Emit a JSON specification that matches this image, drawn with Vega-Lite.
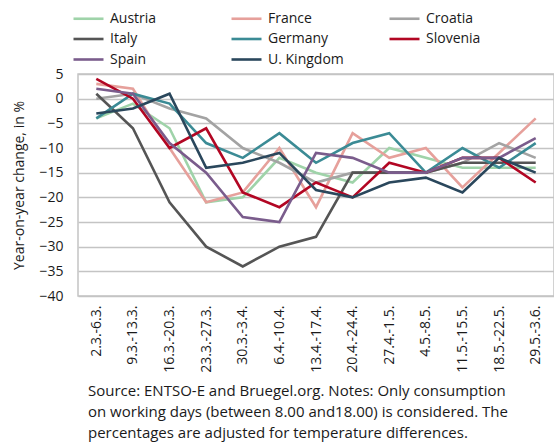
{
  "$schema": "https://vega.github.io/schema/vega-lite/v6.json",
  "width": 476,
  "height": 222,
  "autosize": {"type": "none"},
  "padding": {"left": 78, "top": 74, "right": 0, "bottom": 148},
  "background": "white",
  "config": {
    "font": "Open Sans",
    "view": {"stroke": "#c4c4c4", "strokeWidth": 1.5}
  },
  "title": {
    "text": [
      "Source: ENTSO-E and Bruegel.org. Notes: Only consumption",
      "on working days (between 8.00 and18.00) is considered. The",
      "percentages are adjusted for temperature differences."
    ],
    "orient": "bottom",
    "anchor": "start",
    "frame": "group",
    "dx": 10,
    "offset": 12,
    "fontSize": 15,
    "fontWeight": "normal",
    "lineHeight": 21,
    "color": "#1a1a1a"
  },
  "datasets": {
    "d": [
      {"week": "2.3.-6.3.", "country": "Austria", "value": -4},
      {"week": "9.3.-13.3.", "country": "Austria", "value": -1},
      {"week": "16.3.-20.3.", "country": "Austria", "value": -6},
      {"week": "23.3.-27.3.", "country": "Austria", "value": -21},
      {"week": "30.3.-3.4.", "country": "Austria", "value": -20},
      {"week": "6.4.-10.4.", "country": "Austria", "value": -12},
      {"week": "13.4.-17.4.", "country": "Austria", "value": -15},
      {"week": "20.4.-24.4.", "country": "Austria", "value": -17},
      {"week": "27.4.-1.5.", "country": "Austria", "value": -10},
      {"week": "4.5.-8.5.", "country": "Austria", "value": -12},
      {"week": "11.5.-15.5.", "country": "Austria", "value": -14},
      {"week": "18.5.-22.5.", "country": "Austria", "value": -14},
      {"week": "29.5.-3.6.", "country": "Austria", "value": -14},

      {"week": "2.3.-6.3.", "country": "France", "value": 3},
      {"week": "9.3.-13.3.", "country": "France", "value": 2},
      {"week": "16.3.-20.3.", "country": "France", "value": -10},
      {"week": "23.3.-27.3.", "country": "France", "value": -21},
      {"week": "30.3.-3.4.", "country": "France", "value": -19},
      {"week": "6.4.-10.4.", "country": "France", "value": -10},
      {"week": "13.4.-17.4.", "country": "France", "value": -22},
      {"week": "20.4.-24.4.", "country": "France", "value": -7},
      {"week": "27.4.-1.5.", "country": "France", "value": -12},
      {"week": "4.5.-8.5.", "country": "France", "value": -10},
      {"week": "11.5.-15.5.", "country": "France", "value": -18},
      {"week": "18.5.-22.5.", "country": "France", "value": -11},
      {"week": "29.5.-3.6.", "country": "France", "value": -4},

      {"week": "2.3.-6.3.", "country": "Croatia", "value": 0},
      {"week": "9.3.-13.3.", "country": "Croatia", "value": 1},
      {"week": "16.3.-20.3.", "country": "Croatia", "value": -2},
      {"week": "23.3.-27.3.", "country": "Croatia", "value": -4},
      {"week": "30.3.-3.4.", "country": "Croatia", "value": -10},
      {"week": "6.4.-10.4.", "country": "Croatia", "value": -13},
      {"week": "13.4.-17.4.", "country": "Croatia", "value": -17},
      {"week": "20.4.-24.4.", "country": "Croatia", "value": -15},
      {"week": "27.4.-1.5.", "country": "Croatia", "value": -15},
      {"week": "4.5.-8.5.", "country": "Croatia", "value": -15},
      {"week": "11.5.-15.5.", "country": "Croatia", "value": -13},
      {"week": "18.5.-22.5.", "country": "Croatia", "value": -9},
      {"week": "29.5.-3.6.", "country": "Croatia", "value": -12},

      {"week": "2.3.-6.3.", "country": "Italy", "value": 1},
      {"week": "9.3.-13.3.", "country": "Italy", "value": -6},
      {"week": "16.3.-20.3.", "country": "Italy", "value": -21},
      {"week": "23.3.-27.3.", "country": "Italy", "value": -30},
      {"week": "30.3.-3.4.", "country": "Italy", "value": -34},
      {"week": "6.4.-10.4.", "country": "Italy", "value": -30},
      {"week": "13.4.-17.4.", "country": "Italy", "value": -28},
      {"week": "20.4.-24.4.", "country": "Italy", "value": -15},
      {"week": "27.4.-1.5.", "country": "Italy", "value": -15},
      {"week": "4.5.-8.5.", "country": "Italy", "value": -15},
      {"week": "11.5.-15.5.", "country": "Italy", "value": -13},
      {"week": "18.5.-22.5.", "country": "Italy", "value": -13},
      {"week": "29.5.-3.6.", "country": "Italy", "value": -13},

      {"week": "2.3.-6.3.", "country": "Germany", "value": -4},
      {"week": "9.3.-13.3.", "country": "Germany", "value": 1},
      {"week": "16.3.-20.3.", "country": "Germany", "value": -1},
      {"week": "23.3.-27.3.", "country": "Germany", "value": -9},
      {"week": "30.3.-3.4.", "country": "Germany", "value": -12},
      {"week": "6.4.-10.4.", "country": "Germany", "value": -7},
      {"week": "13.4.-17.4.", "country": "Germany", "value": -13},
      {"week": "20.4.-24.4.", "country": "Germany", "value": -9},
      {"week": "27.4.-1.5.", "country": "Germany", "value": -7},
      {"week": "4.5.-8.5.", "country": "Germany", "value": -15},
      {"week": "11.5.-15.5.", "country": "Germany", "value": -10},
      {"week": "18.5.-22.5.", "country": "Germany", "value": -14},
      {"week": "29.5.-3.6.", "country": "Germany", "value": -9},

      {"week": "2.3.-6.3.", "country": "Slovenia", "value": 4},
      {"week": "9.3.-13.3.", "country": "Slovenia", "value": 0},
      {"week": "16.3.-20.3.", "country": "Slovenia", "value": -10},
      {"week": "23.3.-27.3.", "country": "Slovenia", "value": -6},
      {"week": "30.3.-3.4.", "country": "Slovenia", "value": -19},
      {"week": "6.4.-10.4.", "country": "Slovenia", "value": -22},
      {"week": "13.4.-17.4.", "country": "Slovenia", "value": -17},
      {"week": "20.4.-24.4.", "country": "Slovenia", "value": -20},
      {"week": "27.4.-1.5.", "country": "Slovenia", "value": -13},
      {"week": "4.5.-8.5.", "country": "Slovenia", "value": -15},
      {"week": "11.5.-15.5.", "country": "Slovenia", "value": -12},
      {"week": "18.5.-22.5.", "country": "Slovenia", "value": -12},
      {"week": "29.5.-3.6.", "country": "Slovenia", "value": -17},

      {"week": "2.3.-6.3.", "country": "Spain", "value": 2},
      {"week": "9.3.-13.3.", "country": "Spain", "value": 1},
      {"week": "16.3.-20.3.", "country": "Spain", "value": -9},
      {"week": "23.3.-27.3.", "country": "Spain", "value": -15},
      {"week": "30.3.-3.4.", "country": "Spain", "value": -24},
      {"week": "6.4.-10.4.", "country": "Spain", "value": -25},
      {"week": "13.4.-17.4.", "country": "Spain", "value": -11},
      {"week": "20.4.-24.4.", "country": "Spain", "value": -12},
      {"week": "27.4.-1.5.", "country": "Spain", "value": -15},
      {"week": "4.5.-8.5.", "country": "Spain", "value": -15},
      {"week": "11.5.-15.5.", "country": "Spain", "value": -12},
      {"week": "18.5.-22.5.", "country": "Spain", "value": -12},
      {"week": "29.5.-3.6.", "country": "Spain", "value": -8},

      {"week": "2.3.-6.3.", "country": "U. Kingdom", "value": -3},
      {"week": "9.3.-13.3.", "country": "U. Kingdom", "value": -2},
      {"week": "16.3.-20.3.", "country": "U. Kingdom", "value": 1},
      {"week": "23.3.-27.3.", "country": "U. Kingdom", "value": -14},
      {"week": "30.3.-3.4.", "country": "U. Kingdom", "value": -13},
      {"week": "6.4.-10.4.", "country": "U. Kingdom", "value": -11},
      {"week": "13.4.-17.4.", "country": "U. Kingdom", "value": -18.5},
      {"week": "20.4.-24.4.", "country": "U. Kingdom", "value": -20},
      {"week": "27.4.-1.5.", "country": "U. Kingdom", "value": -17},
      {"week": "4.5.-8.5.", "country": "U. Kingdom", "value": -16},
      {"week": "11.5.-15.5.", "country": "U. Kingdom", "value": -19},
      {"week": "18.5.-22.5.", "country": "U. Kingdom", "value": -12},
      {"week": "29.5.-3.6.", "country": "U. Kingdom", "value": -15}
    ]
  },
  "data": {"name": "d"},
  "mark": {"type": "line", "strokeWidth": 2.6, "strokeJoin": "miter", "clip": false},
  "encoding": {
    "x": {
      "field": "week",
      "type": "ordinal",
      "sort": null,
      "scale": {"type": "point", "padding": 0.5},
      "axis": {
        "title": null,
        "labelAngle": 270,
        "labelFontSize": 14,
        "labelColor": "#1a1a1a",
        "labelPadding": 9,
        "ticks": false,
        "domain": false,
        "grid": false
      }
    },
    "y": {
      "field": "value",
      "type": "quantitative",
      "scale": {"domain": [-40, 5], "nice": false, "zero": false},
      "axis": {
        "values": [-40, -35, -30, -25, -20, -15, -10, -5, 0, 5],
        "title": "Year-on-year change, in %",
        "titleFontSize": 14,
        "titleFontWeight": "normal",
        "titleColor": "#1a1a1a",
        "titlePadding": 12,
        "labelFontSize": 14,
        "labelColor": "#1a1a1a",
        "labelPadding": 15,
        "ticks": false,
        "domain": false,
        "grid": true,
        "gridColor": "#c4c4c4",
        "gridWidth": 1.5
      }
    },
    "color": {
      "field": "country",
      "type": "nominal",
      "sort": null,
      "scale": {
        "domain": ["Austria", "Italy", "Spain", "France", "Germany", "U. Kingdom", "Croatia", "Slovenia"],
        "range": ["#9fd3a9", "#555555", "#7a5c8c", "#e6a09b", "#3b8b95", "#2a475c", "#a3a3a3", "#b20623"]
      },
      "legend": {
        "title": null,
        "orient": "none",
        "legendX": -1,
        "legendY": -67,
        "columns": 3,
        "gridAlign": "all",
        "columnPadding": 40,
        "rowPadding": 1.5,
        "symbolType": "M-1.5,0H1.5",
        "symbolSize": 400,
        "symbolStrokeWidth": 2.6,
        "symbolFillColor": "transparent",
        "labelFontSize": 14,
        "labelColor": "#1a1a1a",
        "labelOffset": 10
      }
    }
  }
}
